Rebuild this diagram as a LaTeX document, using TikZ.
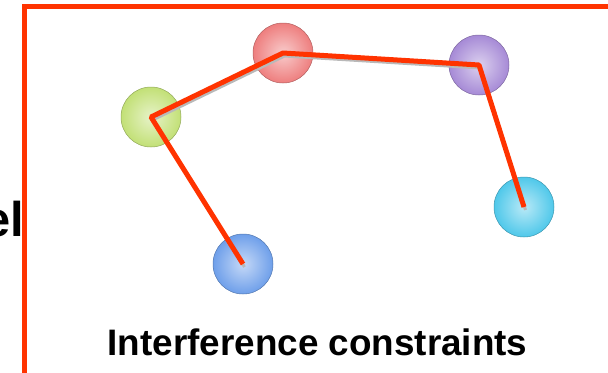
\documentclass[tikz,border=0pt]{standalone}
\usepackage{fontspec}
\setmainfont{Liberation Sans}
\usetikzlibrary{arrows,shapes}

\definecolor{linecol}{HTML}{FF3300}
\definecolor{pinkcol}{HTML}{EE7E7E}
\definecolor{purplecol}{HTML}{A68AD6}
\definecolor{greencol}{HTML}{C2E076}
\definecolor{bluecol}{HTML}{6E9FEA}
\definecolor{cyancol}{HTML}{4FC8EA}

\begin{document}
\begin{tikzpicture}[x=1bp,y=-1bp,line join=bevel,
  bead/.style={circle,minimum size=60bp,inner sep=0pt,draw=#1!75!black,
    line width=0.5bp,inner color=#1!40!white,outer color=#1},
  link/.style={linecol,line width=5bp},
  linkshadow/.style={gray!55,line width=3bp,
    transform canvas={shift={(1.5bp,-3bp)}}},
  ]
\clip (0,0) rectangle (608,372);

% Node: green
\node[bead=greencol] (green) at (151,117) {};

% Node: pink
\node[bead=pinkcol] (pink) at (283,53) {};

% Node: purple
\node[bead=purplecol] (purple) at (479,65) {};

% Node: blue
\node[bead=bluecol] (blue) at (243,264) {};

% Node: cyan
\node[bead=cyancol] (cyan) at (524,207) {};

% Edge: blue -> green -> pink -> purple -> cyan
\draw[linkshadow] (blue.center) -- (green.center) -- (pink.center) -- (purple.center) -- (cyan.center);
\draw[link] (blue.center) -- (green.center) -- (pink.center) -- (purple.center) -- (cyan.center);

% Labels
\node[anchor=base,font=\bfseries\fontsize{37}{44}\selectfont] (caption) at (317.5,355) {Interference constraints};
\node[anchor=base east,font=\bfseries\fontsize{49}{58}\selectfont,inner sep=0pt] (cut) at (24.5,236) {el};

% Frame
\draw[linecol,line width=5bp,line join=miter] (24,380) -- (24,6.5) -- (620,6.5);

\end{tikzpicture}
\end{document}
